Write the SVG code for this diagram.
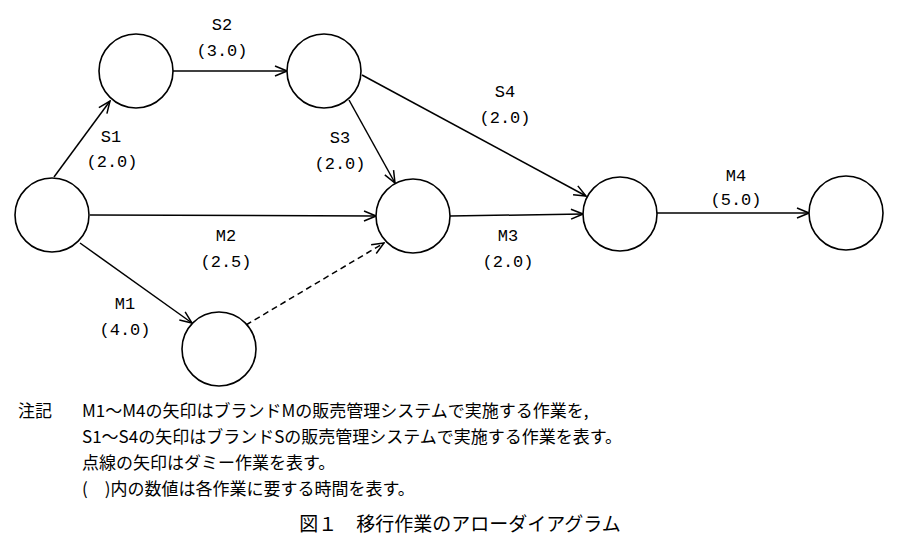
<svg xmlns="http://www.w3.org/2000/svg" width="900" height="559" viewBox="0 0 900 559">
<style>
.n{fill:#fff;stroke:#000;stroke-width:1.6}
.e{stroke:#000;stroke-width:1.5;fill:none;marker-end:url(#a)}
.d{stroke-dasharray:6,4}
text{font-family:"Liberation Mono","Noto Sans CJK JP",monospace;font-size:17px;fill:#000;text-anchor:middle}
.j{font-family:"Noto Sans CJK JP",sans-serif;font-size:17px;text-anchor:start}
.t{font-family:"Noto Sans CJK JP",sans-serif;font-size:19px}
</style>
<defs><marker id="a" markerWidth="14" markerHeight="12" refX="13" refY="6" orient="auto" markerUnits="userSpaceOnUse"><path d="M1,1 L13,6 L1,11" fill="none" stroke="#000" stroke-width="1.5"/></marker></defs>
<rect width="900" height="559" fill="#fff"/>
<g id="connectors">
<line class="e" x1="54" y1="177" x2="110" y2="101"/>
<line class="e" x1="173" y1="71" x2="287" y2="71"/>
<line class="e" x1="349" y1="100" x2="395" y2="183"/>
<line class="e" x1="362" y1="75" x2="586" y2="196"/>
<line class="e" x1="90" y1="215" x2="376" y2="216"/>
<line class="e" x1="80" y1="243" x2="192" y2="323"/>
<line class="e d" x1="246" y1="325" x2="384" y2="243"/>
<line class="e" x1="450" y1="216" x2="583" y2="214"/>
<line class="e" x1="657" y1="213" x2="809" y2="213"/>
</g>
<g id="A"><circle class="n" cx="52" cy="215" r="37"/></g>
<g id="B"><circle class="n" cx="136" cy="71" r="37"/></g>
<g id="C"><circle class="n" cx="324" cy="71" r="37"/></g>
<g id="D"><circle class="n" cx="413" cy="216" r="37"/></g>
<g id="E"><circle class="n" cx="219" cy="349" r="37"/></g>
<g id="F"><circle class="n" cx="620" cy="214" r="37"/></g>
<g id="G"><circle class="n" cx="846" cy="213" r="37"/></g>
<g id="labels">
<text x="222" y="30">S2</text><text x="222" y="56">(3.0)</text>
<text x="111" y="142">S1</text><text x="112" y="167">(2.0)</text>
<text x="340" y="143">S3</text><text x="340" y="169">(2.0)</text>
<text x="505" y="97">S4</text><text x="505" y="123">(2.0)</text>
<text x="226" y="241">M2</text><text x="226" y="267">(2.5)</text>
<text x="125" y="309">M1</text><text x="125" y="335">(4.0)</text>
<text x="508" y="241">M3</text><text x="508" y="267">(2.0)</text>
<text x="736" y="181">M4</text><text x="736" y="205">(5.0)</text>
</g>
<g id="note">
<text class="j" x="18" y="417">注記</text>
<text class="j" x="82" y="417">M1～M4の矢印はブランドMの販売管理システムで実施する作業を,</text>
<text class="j" x="82" y="443">S1～S4の矢印はブランドSの販売管理システムで実施する作業を表す。</text>
<text class="j" x="82" y="469">点線の矢印はダミー作業を表す。</text>
<text class="j" x="82" y="495">(　)内の数値は各作業に要する時間を表す。</text>
<text class="t" x="460" y="531">図１　移行作業のアローダイアグラム</text>
</g>
</svg>
